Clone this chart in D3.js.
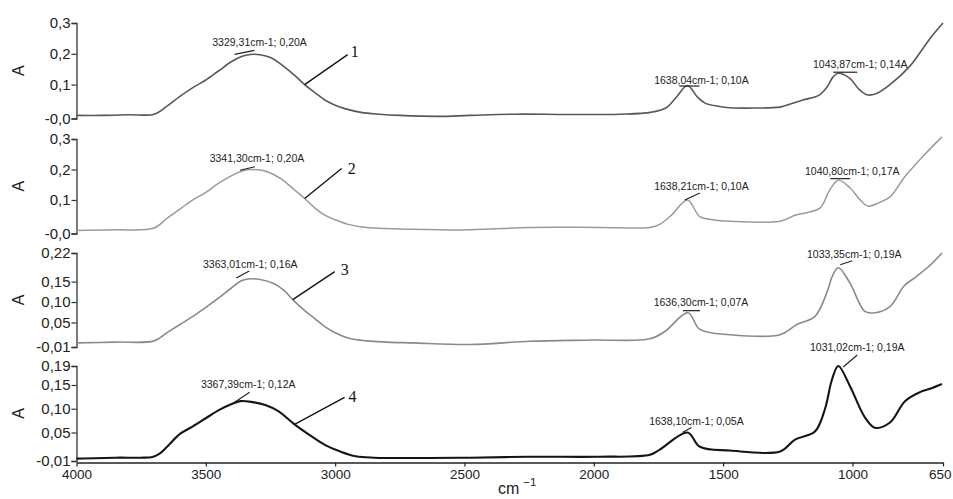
<!DOCTYPE html>
<html><head><meta charset="utf-8">
<script src="https://cdn.jsdelivr.net/npm/d3@7"></script>
<style>body{margin:0;background:#fff;} svg{display:block;}</style>
</head><body><svg id="c" width="953" height="499"></svg>
<script>
// ---- data (wavenumber cm-1, absorbance A) ----
const wn1 = [4000,3900,3800,3700,3650,3600,3550,3500,3450,3400,3360,3329,3290,3250,3200,3150,3118,3080,3040,3000,2963,2900,2830,2750,2600,2480,2300,2100,1900,1780,1720,1680,1638,1600,1570,1520,1474,1380,1280,1240,1192,1130,1100,1075,1055,1010,975,944,910,855,778,700,650];
const a1  = [0.0,0.0,0.002,0.004,0.03,0.062,0.09,0.115,0.145,0.175,0.192,0.198,0.197,0.188,0.16,0.125,0.10,0.075,0.05,0.033,0.022,0.01,0.004,0.0,-0.003,0.0,0.004,0.003,0.004,0.01,0.025,0.06,0.097,0.06,0.04,0.03,0.025,0.024,0.027,0.037,0.05,0.065,0.09,0.125,0.137,0.12,0.085,0.067,0.07,0.10,0.16,0.25,0.30];

const wn2 = [4000,3850,3700,3650,3600,3550,3500,3450,3400,3360,3341,3300,3260,3210,3160,3118,3080,3040,3000,2950,2880,2800,2750,2480,2248,1977,1783,1745,1700,1638,1590,1540,1474,1280,1222,1126,1090,1055,1010,970,940,900,855,797,720,654];
const a2  = [0.0,0.002,0.008,0.04,0.07,0.10,0.125,0.155,0.18,0.195,0.199,0.199,0.192,0.17,0.135,0.105,0.075,0.05,0.035,0.02,0.01,0.006,0.005,0.002,0.01,0.01,0.01,0.02,0.05,0.10,0.045,0.035,0.03,0.03,0.05,0.073,0.13,0.165,0.14,0.10,0.08,0.09,0.11,0.177,0.25,0.307];

const wn3 = [4000,3850,3700,3650,3600,3550,3500,3450,3400,3363,3330,3290,3240,3200,3164,3120,3080,3040,3000,2950,2880,2800,2700,2480,2248,2000,1783,1725,1636,1590,1474,1280,1215,1145,1095,1080,1055,1010,952,913,855,800,758,700,654];
const a3  = [0.0,0.002,0.005,0.025,0.045,0.065,0.087,0.11,0.135,0.152,0.157,0.155,0.146,0.13,0.106,0.08,0.06,0.04,0.025,0.012,0.005,0.002,0.0,-0.004,0.004,0.007,0.01,0.028,0.074,0.033,0.02,0.02,0.045,0.065,0.13,0.16,0.184,0.147,0.077,0.074,0.089,0.14,0.16,0.19,0.22];

const wn4 = [4000,3850,3750,3710,3680,3650,3600,3550,3500,3450,3400,3367,3320,3270,3220,3157,3100,3040,2980,2920,2850,2480,2248,1977,1783,1745,1638,1590,1474,1280,1222,1145,1106,1080,1055,1010,952,913,855,797,739,700,654];
const a4  = [-0.005,-0.003,-0.003,-0.002,0.005,0.02,0.047,0.063,0.08,0.097,0.11,0.116,0.114,0.108,0.095,0.067,0.045,0.024,0.01,0.0,-0.003,-0.003,-0.001,-0.001,0.003,0.014,0.05,0.02,0.012,0.01,0.035,0.052,0.10,0.16,0.19,0.148,0.082,0.06,0.071,0.116,0.135,0.142,0.152];

const xTicks = [4000,3500,3000,2500,2000,1500,1000,650];
const yTicks1 = [0.3,0.2,0.1,-0.01],  yLabels1 = ["0,3","0,2","0,1","-0,0"];
const yTicks2 = [0.3,0.2,0.1,-0.01],  yLabels2 = ["0,3","0,2","0,1","-0,0"];
const yTicks3 = [0.22,0.15,0.10,0.05,-0.01], yLabels3 = ["0,22","0,15","0,10","0,05","-0,01"];
const yTicks4 = [0.19,0.15,0.10,0.05,-0.01], yLabels4 = ["0,19","0,15","0,10","0,05","-0,01"];

const peaks1 = [[3329,0.198,"3329,31cm-1; 0,20A"],[1638,0.097,"1638,04cm-1; 0,10A"],[1055,0.137,"1043,87cm-1; 0,14A"]];
const peaks2 = [[3341,0.199,"3341,30cm-1; 0,20A"],[1638,0.10,"1638,21cm-1; 0,10A"],[1055,0.165,"1040,80cm-1; 0,17A"]];
const peaks3 = [[3363,0.155,"3363,01cm-1; 0,16A"],[1636,0.074,"1636,30cm-1; 0,07A"],[1055,0.184,"1033,35cm-1; 0,19A"]];
const peaks4 = [[3367,0.116,"3367,39cm-1; 0,12A"],[1638,0.05,"1638,10cm-1; 0,05A"],[1055,0.19,"1031,02cm-1; 0,19A"]];
const curveIds = ["1","2","3","4"];
const curvePts = [[3118,0.10],[3118,0.105],[3164,0.106],[3157,0.067]];

// ---- layout ----
const svg = d3.select("#c");
const x = d3.scaleLinear().domain([4000,650]).range([76.5,943]);
const FONT = "'Liberation Sans', Arial, sans-serif";

const panels = [
  {wn:wn1,a:a1,dom:[-0.01,0.3],rng:[118.5,23],ticks:yTicks1,labels:yLabels1,color:"#585858",w:1.6,peaks:peaks1,
   pOff:[[9.5,-8.5,-15.5,0,4.5,-4],[14,-2,-8,0.5,12,0.5],[22,-5,-5,-1,19,-1]], nOff:[43,-30,50,-28]},
  {wn:wn2,a:a2,dom:[-0.01,0.3],rng:[233.5,139],ticks:yTicks2,labels:yLabels2,color:"#9a9a9a",w:1.5,peaks:peaks2,
   pOff:[[10,-7.3,-7,0.5,8,-3],[14,-10,-2.6,0,12.4,-7],[14,-5,-8,-1.5,12,-1.5]], nOff:[37,-30,47,-24]},
  {wn:wn3,a:a3,dom:[-0.01,0.22],rng:[347,253],ticks:yTicks3,labels:yLabels3,color:"#8a8a8a",w:1.6,peaks:peaks3,
   pOff:[[9,-11.6,-5,-1.6,8,-8.6],[13,-7,-5,-2,12,-2],[16,-10,2,-3,14,-7]], nOff:[42,-28,52,-25]},
  {wn:wn4,a:a4,dom:[-0.01,0.19],rng:[461,366],ticks:yTicks4,labels:yLabels4,color:"#151515",w:2.1,peaks:peaks4,
   pOff:[[8,-13,-5.6,1,9.4,-9],[9,-7.5,-5,0,4,-5],[19,-15,5,1,19,-11]], nOff:[50,-27,58,-22]}
];

panels.forEach((p,i)=>{
  const y = d3.scaleLinear().domain(p.dom).range(p.rng);
  const g = svg.append("g");
  const ax = g.append("g").attr("transform","translate(76.5,0)")
    .call(d3.axisLeft(y).tickValues(p.ticks).tickSize(5).tickPadding(1)
      .tickFormat((d,k)=>p.labels[k]));
  ax.select(".domain").attr("stroke","#333").attr("stroke-width",1.3);
  ax.selectAll(".tick line").attr("stroke","#333").attr("stroke-width",1.2);
  ax.selectAll(".tick text").attr("font-family",FONT).attr("font-size",15).attr("fill","#222");
  g.append("text").attr("transform",`translate(24,${(p.rng[0]+p.rng[1])/2}) rotate(-90)`)
    .attr("text-anchor","middle").attr("font-family",FONT).attr("font-size",16).attr("fill","#222").text("A");
  const data = p.wn.map((w,k)=>[w,p.a[k]]);
  g.append("path").datum(data).attr("fill","none").attr("stroke",p.color).attr("stroke-width",p.w)
    .attr("stroke-linejoin","round")
    .attr("d",d3.line().x(d=>x(d[0])).y(d=>y(d[1])).curve(d3.curveCatmullRom.alpha(0.5)));
  p.peaks.forEach((pk,k)=>{
    const px = x(pk[0]), py = y(pk[1]), o = p.pOff[k];
    g.append("text").attr("x",px+o[0]).attr("y",py+o[1]).attr("text-anchor","middle")
      .attr("font-family",FONT).attr("font-size",10.5).attr("fill","#222").text(pk[2]);
    g.append("line").attr("x1",px+o[2]).attr("y1",py+o[3]).attr("x2",px+o[4]).attr("y2",py+o[5])
      .attr("stroke","#222").attr("stroke-width",1.2);
  });
  const cx = x(curvePts[i][0]), cy = y(curvePts[i][1]), n = p.nOff;
  g.append("line").attr("x1",cx).attr("y1",cy).attr("x2",cx+n[0]).attr("y2",cy+n[1])
    .attr("stroke","#111").attr("stroke-width",1.3);
  g.append("text").attr("x",cx+n[2]).attr("y",cy+n[3]).attr("text-anchor","middle")
    .attr("font-family","'Liberation Serif', 'Times New Roman', serif").attr("font-size",16).attr("fill","#111")
    .text(curveIds[i]);
});

// x axis
const xa = svg.append("g").attr("transform","translate(0,462.5)")
  .call(d3.axisBottom(x).tickValues(xTicks).tickSize(4).tickSizeOuter(0).tickPadding(3).tickFormat(d3.format("d")));
xa.select(".domain").attr("stroke","#222").attr("stroke-width",1.6);
xa.selectAll(".tick line").attr("stroke","#222").attr("stroke-width",1.2);
xa.selectAll(".tick text").attr("font-family",FONT).attr("font-size",13.5).attr("fill","#222");
xa.selectAll(".tick text").filter(d=>d===650).attr("text-anchor","end").attr("dx",8);

const t = svg.append("text").attr("x",498).attr("y",494).attr("font-family",FONT).attr("font-size",16).attr("fill","#222");
t.append("tspan").text("cm");
t.append("tspan").attr("dx",4).attr("dy",-8).attr("font-size",11.5).text("−1");
</script>
</body></html>
